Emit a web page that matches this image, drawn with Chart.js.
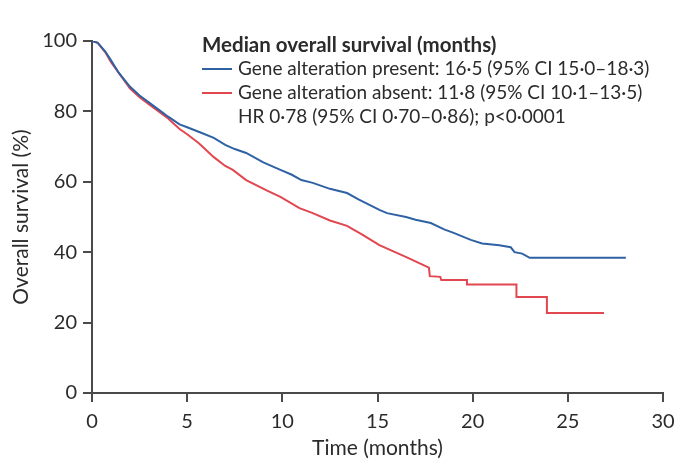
<!DOCTYPE html>
<html>
<head>
<meta charset="utf-8">
<script src="https://cdn.jsdelivr.net/npm/chart.js@4.4.1/dist/chart.umd.min.js"></script>
<style>
  html, body { margin: 0; padding: 0; background: #ffffff; }
  #wrap { width: 675px; height: 461px; position: relative; }
</style>
</head>
<body>
<div id="wrap"><canvas id="c" width="675" height="461"></canvas></div>
<script>
// ---- Data ----
const xTicks = [0, 5, 10, 15, 20, 25, 30];
const yTicks = [0, 20, 40, 60, 80, 100];

const presentTime = [0, 0.3, 0.7, 1.0, 1.4, 2.0, 2.5, 3.0, 3.5, 4.0, 4.6, 5.0, 5.7, 6.4, 7.0, 7.5, 8.1, 9.0, 9.9, 10.5, 11.0, 11.6, 12.5, 13.4, 14.0, 15.1, 15.5, 16.5, 17.0, 17.8, 18.5, 19.0, 19.9, 20.5, 21.4, 22.0, 22.2, 22.6, 23.0, 28.05];
const presentSurv = [100, 99.5, 97, 94.5, 91, 87, 84.5, 82.5, 80.5, 78.5, 76.3, 75.5, 74, 72.5, 70.5, 69.3, 68.2, 65.5, 63.4, 62, 60.5, 59.7, 58, 56.8, 55, 52, 51.1, 50, 49.2, 48.3, 46.5, 45.5, 43.5, 42.5, 42, 41.4, 40, 39.6, 38.4, 38.4];

const absentTime = [0, 0.3, 0.7, 1.0, 1.4, 2.0, 2.5, 3.0, 3.5, 4.0, 4.6, 5.0, 5.6, 6.4, 7.0, 7.4, 8.1, 9.2, 9.9, 10.9, 11.6, 12.5, 13.4, 14.2, 15.1, 16.6, 17.7, 17.75, 18.3, 18.35, 19.7, 19.7, 22.3, 22.3, 23.9, 23.9, 26.9];
const absentSurv = [100, 99.5, 96.8, 94, 91, 86.5, 84, 82, 80, 78, 75, 73.5, 71, 67, 64.5, 63.4, 60.5, 57.5, 55.7, 52.5, 51.1, 49, 47.5, 45, 42, 38.4, 35.6, 33.2, 33, 32.1, 32.1, 30.8, 30.8, 27.3, 27.3, 22.7, 22.7];

const seriesLabels = [
  'Gene alteration present: 16·5 (95% CI 15·0–18·3)',
  'Gene alteration absent: 11·8 (95% CI 10·1–13·5)'
];
const legendTitle = 'Median overall survival (months)';
const hrText = 'HR 0·78 (95% CI 0·70–0·86); p<0·0001';
const xTitle = 'Time (months)';
const yTitle = 'Overall survival (%)';

const BLUE = '#2f62a3';
const RED = '#e2464f';
const AXIS = '#4a4a4a';
const TEXT = '#2b2b2b';
const FONT = 'Lato';

function pts(xs, ys) { return xs.map((x, i) => ({ x: x, y: ys[i] })); }

const legendPlugin = {
  id: 'kmLegend',
  afterDraw(chart) {
    const ctx = chart.ctx;
    ctx.save();
    ctx.textBaseline = 'middle';
    ctx.textAlign = 'left';
    ctx.fillStyle = TEXT;
    ctx.font = 'bold 20.5px ' + FONT;
    ctx.fillText(legendTitle, 202, 45);
    ctx.font = '19px ' + FONT;
    const rows = [69, 93];
    chart.data.datasets.forEach((ds, i) => {
      ctx.strokeStyle = ds.borderColor;
      ctx.lineWidth = 2;
      ctx.beginPath();
      ctx.moveTo(202, rows[i]);
      ctx.lineTo(232, rows[i]);
      ctx.stroke();
      ctx.fillStyle = TEXT;
      ctx.fillText(ds.label, 238, rows[i]);
    });
    ctx.fillText(hrText, 238, 117);
    ctx.restore();
  }
};

new Chart(document.getElementById('c'), {
  type: 'line',
  data: {
    datasets: [
      { label: seriesLabels[0], data: pts(presentTime, presentSurv), borderColor: BLUE, borderWidth: 2, pointRadius: 0, tension: 0, fill: false },
      { label: seriesLabels[1], data: pts(absentTime, absentSurv), borderColor: RED, borderWidth: 2, pointRadius: 0, tension: 0, fill: false }
    ]
  },
  options: {
    responsive: false,
    animation: false,
    layout: { padding: { top: 41, right: 12, left: 0, bottom: 0 } },
    plugins: { legend: { display: false }, tooltip: { enabled: false } },
    scales: {
      x: {
        type: 'linear', min: 0, max: 30,
        afterBuildTicks(scale) { scale.ticks = xTicks.map(v => ({ value: v })); },
        afterFit(scale) { scale.height = 68; scale.paddingRight = 0; },
        border: { display: true, color: AXIS, width: 2 },
        grid: { display: true, drawOnChartArea: false, drawTicks: true, tickLength: 9, color: AXIS, lineWidth: 2 },
        ticks: { color: TEXT, font: { family: FONT, size: 20 }, padding: 8, maxRotation: 0 },
        title: { display: true, text: xTitle, color: TEXT, font: { family: FONT, size: 21 }, padding: { top: 0, bottom: 0 } }
      },
      y: {
        type: 'linear', min: 0, max: 100,
        afterBuildTicks(scale) { scale.ticks = yTicks.map(v => ({ value: v })); },
        afterFit(scale) { scale.width = 92; },
        border: { display: true, color: AXIS, width: 2 },
        grid: { display: true, drawOnChartArea: false, drawTicks: true, tickLength: 9, color: AXIS, lineWidth: 2 },
        ticks: { color: TEXT, font: { family: FONT, size: 20 }, padding: 6 },
        title: { display: true, text: yTitle, color: TEXT, font: { family: FONT, size: 21 }, padding: { top: 9, bottom: 0 } }
      }
    }
  },
  plugins: [legendPlugin]
});
</script>
</body>
</html>
